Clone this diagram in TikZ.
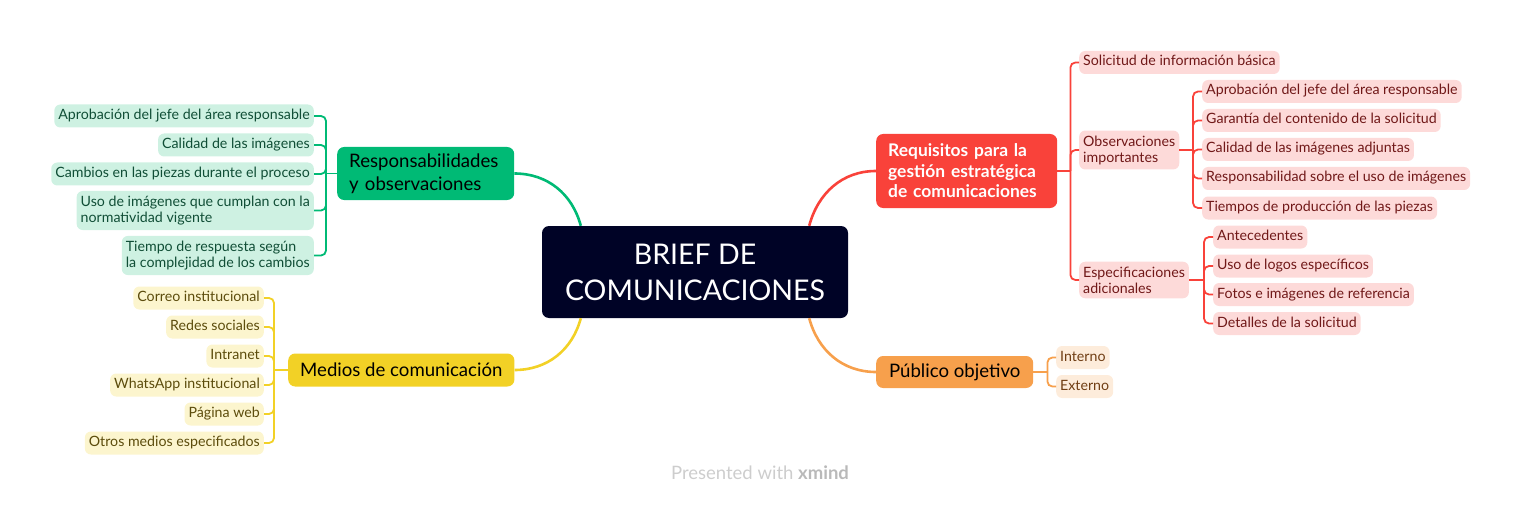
\documentclass[tikz,border=0pt]{standalone}
\usepackage{fontspec}
\setmainfont{Lato}
\usetikzlibrary{calc}
\definecolor{cdark}{RGB}{0,3,38}
\definecolor{gmain}{RGB}{0,186,117}
\definecolor{gfill}{RGB}{206,241,226}
\definecolor{gtext}{RGB}{16,78,54}
\definecolor{ymain}{RGB}{242,209,38}
\definecolor{yfill}{RGB}{252,245,206}
\definecolor{ytext}{RGB}{92,76,12}
\definecolor{rmain}{RGB}{249,66,58}
\definecolor{rfill}{RGB}{253,218,217}
\definecolor{rtext}{RGB}{112,24,24}
\definecolor{omain}{RGB}{247,160,76}
\definecolor{ofill}{RGB}{253,236,219}
\definecolor{otext}{RGB}{112,62,20}
\definecolor{wmark}{RGB}{205,205,205}
\definecolor{wmarkb}{RGB}{185,185,185}
\begin{document}
\begin{tikzpicture}[x=1pt,y=-1pt,
  leafbase/.style={rounded corners=6pt, inner xsep=4pt, inner ysep=5pt, minimum height=23pt,
    font=\fontsize{14.2}{16}\selectfont, align=left},
  leaf/.style={leafbase, text height=10pt, text depth=3pt},
  mleaf/.style={leafbase},
  gfc/.style={fill=gfill, text=gtext, anchor=east},
  yfc/.style={fill=yfill, text=ytext, anchor=east},
  rfc/.style={fill=rfill, text=rtext, anchor=west},
  ofc/.style={fill=ofill, text=otext, anchor=west},
  topic/.style={rounded corners=7pt, inner xsep=12pt, inner ysep=5pt, minimum height=33pt,
    font=\fontsize{18.6}{22}\selectfont, align=left},
  mline/.style={line width=2.6pt},
  sline/.style={line width=1.8pt, rounded corners=5pt}
]
\useasboundingbox (0,0) rectangle (1522,505);

% central
\node[fill=cdark, text=white, rounded corners=7pt, minimum width=306pt, minimum height=92pt,
  font=\fontsize{28.5}{36}\selectfont, align=center] (c) at (695,272) {BRIEF DE\\COMUNICACIONES};

% main topics
\node[topic, fill=gmain, text=black, text width=153pt, minimum height=53pt, anchor=west,
  font=\fontsize{18.6}{23}\selectfont] (g) at (337,173.5) {Responsabilidades\\y observaciones};
\node[topic, fill=ymain, text=black, minimum width=226pt, anchor=west] (y) at (288,370) {Medios de comunicación};
\node[topic, fill=rmain, text=white, text width=157pt, minimum height=74pt, anchor=west,
  font=\bfseries\fontsize{17.4}{20.5}\selectfont] (r) at (876,171) {Requisitos para la\\gestión estratégica\\de comunicaciones};
\node[topic, fill=omain, text=black, minimum width=157pt, minimum height=32pt, anchor=west] (o) at (876,372) {Público objetivo};

% central connectors
\draw[mline, gmain] (g.east) to[out=0,in=105] ($(c.north west)+(39,0)$);
\draw[mline, ymain] (y.east) to[out=0,in=-105] ($(c.south west)+(39,0)$);
\draw[mline, rmain] (r.west) to[out=180,in=75] ($(c.north east)+(-39,0)$);
\draw[mline, omain] (o.west) to[out=180,in=-75] ($(c.south east)+(-39,0)$);

% green leaves
\node[leaf, gfc] (g1) at (314,116) {Aprobación del jefe del área responsable};
\node[leaf, gfc] (g2) at (314,145) {Calidad de las imágenes};
\node[leaf, gfc] (g3) at (314,174) {Cambios en las piezas durante el proceso};
\node[mleaf, gfc] (g4) at (314,210.5) {Uso de imágenes que cumplan con la\\normatividad vigente};
\node[mleaf, gfc] (g5) at (314,255.5) {Tiempo de respuesta según\\la complejidad de los cambios};
\coordinate (gj) at ($(g.west)+(-11,0)$);
\draw[sline, gmain] (g.west) -- (gj);
\foreach \n in {g1,g2,g3,g4,g5} \draw[sline, gmain] (gj) |- (\n.east);

% yellow leaves
\node[leaf, yfc] (y1) at (264,298) {Correo institucional};
\node[leaf, yfc] (y2) at (264,327) {Redes sociales};
\node[leaf, yfc] (y3) at (264,356) {Intranet};
\node[leaf, yfc] (y4) at (264,385) {WhatsApp institucional};
\node[leaf, yfc] (y5) at (264,414) {Página web};
\node[leaf, yfc] (y6) at (264,443) {Otros medios especificados};
\coordinate (yj) at ($(y.west)+(-14,0)$);
\draw[sline, ymain] (y.west) -- (yj);
\foreach \n in {y1,y2,y3,y4,y5,y6} \draw[sline, ymain] (yj) |- (\n.east);

% red level 2
\node[leaf, rfc] (r1) at (1079,62.5) {Solicitud de información básica};
\node[mleaf, rfc] (r2) at (1079,150) {Observaciones\\importantes};
\node[mleaf, rfc] (r3) at (1079,280) {Especificaciones\\adicionales};
\coordinate (rj) at ($(r.east)+(13,0)$);
\draw[sline, rmain] (r.east) -- (rj);
\foreach \n in {r1,r2,r3} \draw[sline, rmain] (rj) |- (\n.west);

% observaciones leaves
\node[leaf, rfc] (a1) at (1202,91.5) {Aprobación del jefe del área responsable};
\node[leaf, rfc] (a2) at (1202,120.5) {Garantía del contenido de la solicitud};
\node[leaf, rfc] (a3) at (1202,149.5) {Calidad de las imágenes adjuntas};
\node[leaf, rfc] (a4) at (1202,178.5) {Responsabilidad sobre el uso de imágenes};
\node[leaf, rfc] (a5) at (1202,208) {Tiempos de producción de las piezas};
\coordinate (aj) at (1193,150);
\draw[sline, rmain] (r2.east) -- (aj);
\foreach \n in {a1,a2,a3,a4,a5} \draw[sline, rmain] (aj) |- (\n.west);

% especificaciones leaves
\node[leaf, rfc] (b1) at (1213,237) {Antecedentes};
\node[leaf, rfc] (b2) at (1213,266) {Uso de logos específicos};
\node[leaf, rfc] (b3) at (1213,294.5) {Fotos e imágenes de referencia};
\node[leaf, rfc] (b4) at (1213,323.5) {Detalles de la solicitud};
\coordinate (bj) at (1204,280);
\draw[sline, rmain] (r3.east) -- (bj);
\foreach \n in {b1,b2,b3,b4} \draw[sline, rmain] (bj) |- (\n.west);

% orange leaves
\node[leaf, ofc] (o1) at (1056,357.5) {Interno};
\node[leaf, ofc] (o2) at (1056,386.5) {Externo};
\coordinate (oj) at ($(o.east)+(14,0)$);
\draw[sline, omain] (o.east) -- (oj);
\foreach \n in {o1,o2} \draw[sline, omain] (oj) |- (\n.west);

% watermark
\node[text=wmark, font=\fontsize{18.5}{20}\selectfont] (wm) at (760,473) {Presented with \textcolor{wmarkb}{\textbf{xmind}}};
\end{tikzpicture}
\end{document}
